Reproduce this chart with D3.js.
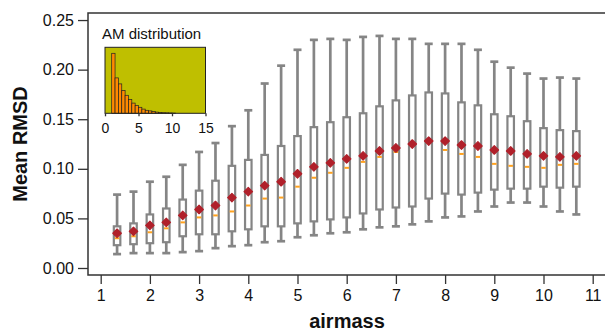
<!DOCTYPE html>
<meta charset="utf-8">

<head>
    <style>
        body { margin: 0; }
        svg { display: block; }
        .axis text {
            font-family: "Liberation Sans", Arial, sans-serif;
            font-size: 16px;
            fill: #111;
        }
        .axis line { stroke: #333; stroke-width: 1.3; }
        .axis-title {
            font-family: "Liberation Sans", Arial, sans-serif;
            font-size: 20px;
            font-weight: 700;
            text-anchor: middle;
            fill: #111;
        }
        .inset text {
            font-family: "Liberation Sans", Arial, sans-serif;
            font-size: 14px;
            fill: #111;
        }
    </style>
</head>

<script src="https://d3js.org/d3.v7.min.js"></script>

<div id="chart"></div>

<script>

    // airmass bin centres (one box per bin)
    const airmass = [1.333, 1.667, 2.0, 2.333, 2.667, 3.0, 3.333, 3.667, 4.0, 4.333,
        4.667, 5.0, 5.333, 5.667, 6.0, 6.333, 6.667, 7.0, 7.333, 7.667,
        8.0, 8.333, 8.667, 9.0, 9.333, 9.667, 10.0, 10.333, 10.667];

    // RMSD stats per bin
    const whiskerHigh = [0.074, 0.077, 0.087, 0.092, 0.104, 0.117, 0.126, 0.143, 0.159, 0.186,
        0.204, 0.220, 0.230, 0.231, 0.230, 0.233, 0.234, 0.231, 0.231, 0.226,
        0.226, 0.226, 0.220, 0.208, 0.202, 0.196, 0.191, 0.192, 0.191];
    const q3 = [0.042, 0.045, 0.054, 0.060, 0.069, 0.078, 0.088, 0.103, 0.109, 0.114,
        0.123, 0.133, 0.142, 0.147, 0.152, 0.156, 0.163, 0.169, 0.174, 0.177,
        0.176, 0.167, 0.164, 0.155, 0.153, 0.148, 0.141, 0.139, 0.138];
    const median = [0.030, 0.032, 0.036, 0.040, 0.046, 0.051, 0.053, 0.057, 0.063, 0.070,
        0.071, 0.082, 0.091, 0.096, 0.101, 0.107, 0.112, 0.117, 0.124, 0.126,
        0.119, 0.115, 0.112, 0.105, 0.103, 0.102, 0.101, 0.104, 0.105];
    const q1 = [0.023, 0.024, 0.025, 0.026, 0.032, 0.034, 0.034, 0.037, 0.039, 0.042,
        0.042, 0.045, 0.047, 0.049, 0.051, 0.055, 0.059, 0.061, 0.062, 0.070,
        0.075, 0.074, 0.076, 0.079, 0.080, 0.080, 0.082, 0.081, 0.082];
    const whiskerLow = [0.014, 0.015, 0.015, 0.015, 0.016, 0.017, 0.020, 0.022, 0.023, 0.026,
        0.027, 0.031, 0.033, 0.035, 0.036, 0.039, 0.041, 0.042, 0.044, 0.047,
        0.051, 0.052, 0.057, 0.062, 0.066, 0.066, 0.062, 0.057, 0.054];
    const meanRmsd = [0.035, 0.037, 0.043, 0.046, 0.053, 0.059, 0.063, 0.071, 0.077, 0.083,
        0.087, 0.095, 0.102, 0.106, 0.110, 0.113, 0.118, 0.121, 0.125, 0.128,
        0.128, 0.124, 0.123, 0.119, 0.118, 0.115, 0.113, 0.112, 0.113];

    const yTicks = [0, 0.05, 0.10, 0.15, 0.20, 0.25];
    const xTicks = [1, 2, 3, 4, 5, 6, 7, 8, 9, 10, 11];

    // inset: airmass histogram (bin starts, relative counts)
    const amBinStart = [1.0, 1.5, 2.0, 2.5, 3.0, 3.5, 4.0, 4.5, 5.0, 5.5,
        6.0, 6.5, 7.0, 7.5, 8.0, 8.5, 9.0, 9.5, 10.0];
    const amCount = [1.0, 0.59, 0.49, 0.38, 0.30, 0.23, 0.17, 0.13, 0.10, 0.07,
        0.05, 0.04, 0.03, 0.02, 0.015, 0.01, 0.008, 0.006, 0.004];
    const insetTicks = [0, 5, 10, 15];

    const W = 605, H = 333;
    const frame = { left: 88, right: 605, top: 13, bottom: 275 };

    const svg = d3.select("#chart").append("svg")
        .attr("width", W)
        .attr("height", H);

    const x = d3.scaleLinear().domain([0.742, 11.25]).range([frame.left, frame.right]);
    const y = d3.scaleLinear().domain([-0.00706, 0.2571]).range([frame.bottom, frame.top]);

    // axes
    svg.append("g")
        .attr("class", "axis")
        .attr("transform", "translate(" + frame.left + ",0)")
        .call(d3.axisLeft(y).tickValues(yTicks).tickFormat(d3.format(".2f")).tickSize(10).tickPadding(4))
        .call(g => g.select(".domain").remove());

    svg.append("g")
        .attr("class", "axis")
        .attr("transform", "translate(0," + frame.bottom + ")")
        .call(d3.axisBottom(x).tickValues(xTicks).tickFormat(d3.format("d")).tickSize(9).tickPadding(6))
        .call(g => g.select(".domain").remove());

    // frame: left, top, bottom
    svg.append("path")
        .attr("d", "M" + frame.right + "," + frame.top + "H" + frame.left + "V" + frame.bottom + "H" + frame.right)
        .attr("fill", "none")
        .attr("stroke", "#333")
        .attr("stroke-width", 1.5);

    // axis titles
    svg.append("text")
        .attr("class", "axis-title")
        .attr("x", 347)
        .attr("y", 328)
        .text("airmass");
    svg.append("text")
        .attr("class", "axis-title")
        .attr("transform", "translate(27," + 144 + ") rotate(-90)")
        .text("Mean RMSD");

    // box plots
    const grey = "#858585";
    const boxW = 6.5, capW = 8;
    const boxes = svg.append("g");
    airmass.forEach(function (a, i) {
        const cx = x(a);
        const g = boxes.append("g");
        g.append("line")
            .attr("x1", cx).attr("x2", cx)
            .attr("y1", y(whiskerHigh[i])).attr("y2", y(q3[i]))
            .attr("stroke", grey).attr("stroke-width", 2.7);
        g.append("line")
            .attr("x1", cx).attr("x2", cx)
            .attr("y1", y(q1[i])).attr("y2", y(whiskerLow[i]))
            .attr("stroke", grey).attr("stroke-width", 2.7);
        [whiskerHigh[i], whiskerLow[i]].forEach(function (v) {
            g.append("line")
                .attr("x1", cx - capW / 2).attr("x2", cx + capW / 2)
                .attr("y1", y(v)).attr("y2", y(v))
                .attr("stroke", grey).attr("stroke-width", 2.7);
        });
        g.append("rect")
            .attr("x", cx - boxW / 2)
            .attr("y", y(q3[i]))
            .attr("width", boxW)
            .attr("height", y(q1[i]) - y(q3[i]))
            .attr("fill", "white")
            .attr("stroke", grey)
            .attr("stroke-width", 2.2);
        g.append("line")
            .attr("x1", cx - boxW / 2 + 1).attr("x2", cx + boxW / 2 - 1)
            .attr("y1", y(median[i])).attr("y2", y(median[i]))
            .attr("stroke", "#FFA21F").attr("stroke-width", 2);
    });

    // mean diamonds
    svg.append("g").selectAll("path")
        .data(meanRmsd)
        .enter()
        .append("path")
        .attr("d", d3.symbol(d3.symbolSquare, 36))
        .attr("transform", (d, i) => "translate(" + x(airmass[i]) + "," + y(d) + ") rotate(45)")
        .attr("fill", "#B0202A")
        .attr("stroke", "#B0202A")
        .attr("stroke-width", 1.2)
        .attr("stroke-linejoin", "round");

    // inset histogram
    const inset = svg.append("g").attr("class", "inset");
    const ix = d3.scaleLinear().domain([0, 15]).range([105, 205.5]);
    const iy = d3.scaleLinear().domain([0, 1.1]).range([113.3, 47.3]);

    inset.append("rect")
        .attr("x", ix(0)).attr("y", iy(1.1))
        .attr("width", ix(15) - ix(0))
        .attr("height", iy(0) - iy(1.1))
        .attr("fill", "#BFBF00");

    inset.selectAll(".bar")
        .data(amCount)
        .enter()
        .append("rect")
        .attr("class", "bar")
        .attr("x", (d, i) => ix(amBinStart[i]))
        .attr("y", d => iy(d))
        .attr("width", ix(0.5) - ix(0))
        .attr("height", d => iy(0) - iy(d))
        .attr("fill", "#FF8A00")
        .attr("stroke", "#222")
        .attr("stroke-width", 0.7);

    inset.append("rect")
        .attr("x", ix(0)).attr("y", iy(1.1))
        .attr("width", ix(15) - ix(0))
        .attr("height", iy(0) - iy(1.1))
        .attr("fill", "none")
        .attr("stroke", "#222")
        .attr("stroke-width", 1);

    inset.append("g")
        .attr("class", "axis")
        .attr("transform", "translate(0," + iy(0) + ")")
        .call(d3.axisBottom(ix).tickValues(insetTicks).tickSize(3).tickPadding(7))
        .call(g => g.select(".domain").remove())
        .call(g => g.selectAll("text").style("font-size", "14px"));

    inset.append("text")
        .attr("x", 102)
        .attr("y", 39)
        .style("font-size", "15px")
        .text("AM distribution");

</script>
